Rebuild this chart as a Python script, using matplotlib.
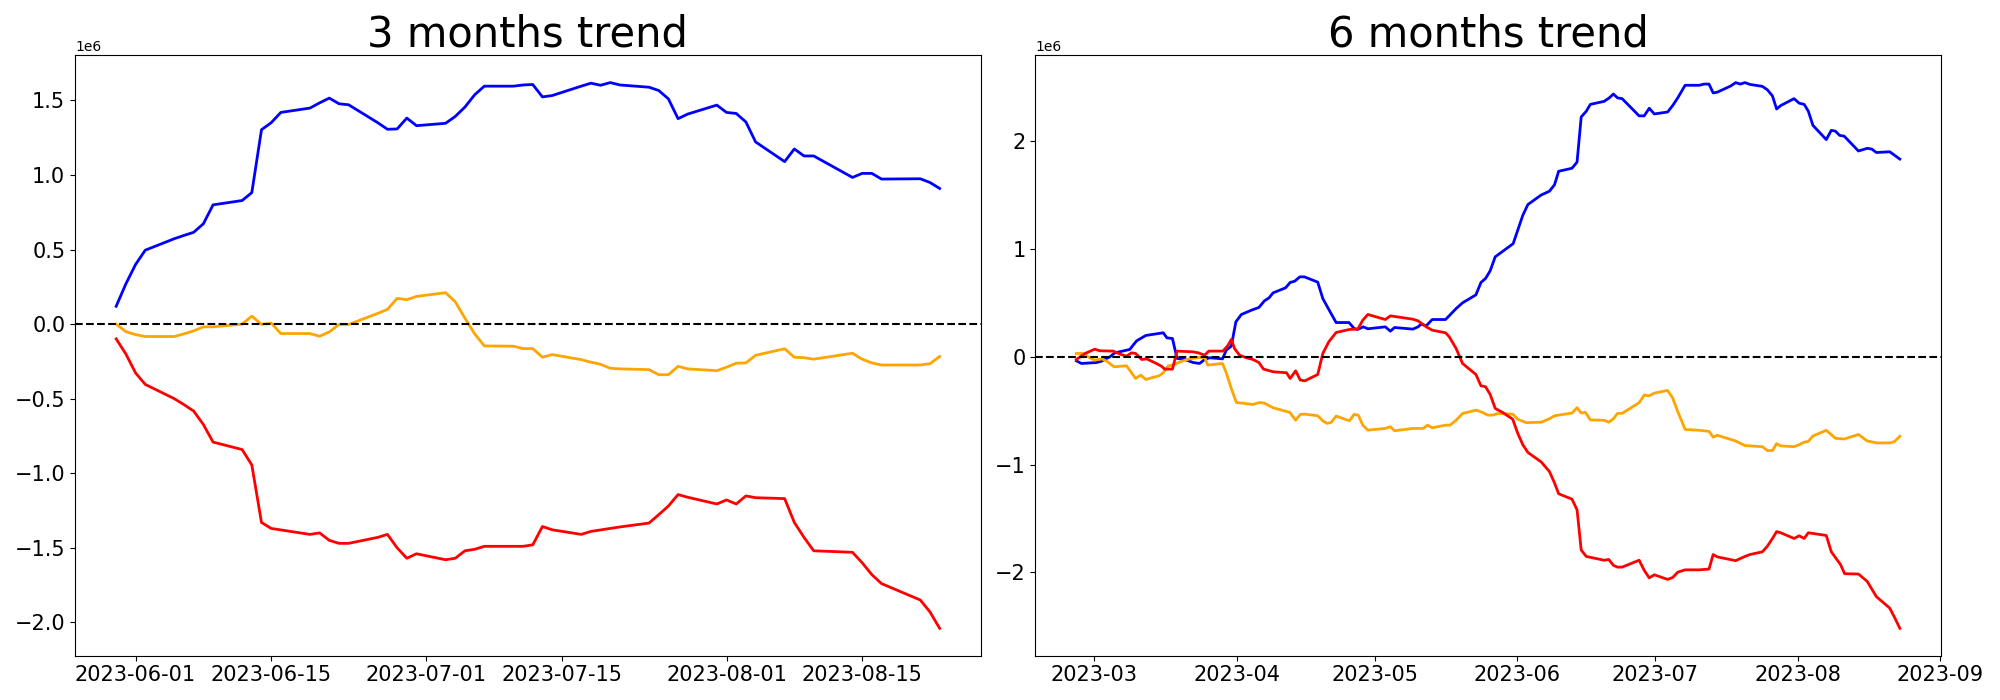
import numpy as np
import matplotlib
matplotlib.use("Agg")
import matplotlib.pyplot as plt
import pandas as pd

# 3 months panel: days after 2023-06-01
days3 = [-2, -1, 0, 1, 4, 5, 6, 7, 8, 11, 12, 13, 14, 15, 18, 19, 20, 21, 22,
         25, 26, 27, 28, 29, 32, 33, 34, 35, 36, 39, 40, 41, 42, 43, 46, 47, 48,
         49, 50, 53, 54, 55, 56, 57, 60, 61, 62, 63, 64, 67, 68, 69, 70, 74, 75,
         76, 77, 81, 82, 83]
blue3 = [0.12, 0.27, 0.40, 0.496, 0.573, 0.595, 0.616, 0.673, 0.80,
         0.829, 0.882, 1.304, 1.351, 1.42,
         1.449, 1.484, 1.516, 1.478, 1.471,
         1.351, 1.307, 1.309, 1.382, 1.331,
         1.347, 1.393, 1.456, 1.538, 1.596,
         1.596, 1.604, 1.607, 1.524, 1.533,
         1.596, 1.616, 1.602, 1.62, 1.604,
         1.589, 1.567, 1.511, 1.378, 1.409,
         1.469, 1.42, 1.413, 1.356, 1.222,
         1.09, 1.175, 1.128, 1.128,
         0.984, 1.011, 1.011, 0.973,
         0.975, 0.95, 0.91]
orange3 = [0.0, -0.05, -0.07, -0.083, -0.083, -0.065, -0.045, -0.018, -0.018,
           0.0, 0.054, -0.002, 0.007, -0.063,
           -0.063, -0.081, -0.052, -0.002, -0.002,
           0.072, 0.099, 0.173, 0.164, 0.186,
           0.211, 0.15, 0.04, -0.065, -0.146,
           -0.148, -0.164, -0.164, -0.222, -0.204,
           -0.238, -0.255, -0.269, -0.296, -0.30,
           -0.305, -0.339, -0.339, -0.283, -0.30,
           -0.312, -0.289, -0.262, -0.26, -0.209,
           -0.165, -0.222, -0.225, -0.235,
           -0.195, -0.235, -0.26, -0.274,
           -0.274, -0.265, -0.217]
red3 = [-0.099, -0.20, -0.327, -0.404, -0.50, -0.54, -0.583, -0.673, -0.791,
        -0.841, -0.944, -1.33, -1.37, -1.38,
        -1.41, -1.40, -1.45, -1.47, -1.47,
        -1.43, -1.41, -1.50, -1.57, -1.54,
        -1.58, -1.57, -1.52, -1.51, -1.49,
        -1.49, -1.49, -1.48, -1.357, -1.379,
        -1.41, -1.39, -1.38, -1.37, -1.36,
        -1.334, -1.278, -1.22, -1.143, -1.161,
        -1.206, -1.179, -1.206, -1.152, -1.164,
        -1.17, -1.33, -1.43, -1.52,
        -1.53, -1.60, -1.68, -1.74,
        -1.85, -1.93, -2.04]

# 6 months panel: days after 2023-03-01
blue6_days = [-3.9, -2.8, 0.5, 1.6, 3.4, 4.5, 7.7, 9.2, 11.2, 15.0, 15.8, 17.0, 18.0, 19.7,
              21.5, 22.9, 24.0, 25.1, 27.9, 28.7, 29.8, 30.8, 32.0, 34.2, 35.8, 37.0, 38.0,
              38.9, 41.6, 42.6, 43.6, 44.7, 45.7, 48.6, 49.7, 51.3, 52.6, 55.4, 56.5, 57.3,
              58.5, 59.5, 63.3, 64.4, 65.3, 69.3, 70.4, 71.1, 72.2, 73.5, 76.4, 78.7, 80.1,
              83.0, 84.1, 85.1, 86.1, 87.2, 91.1, 93.2, 94.3, 97.2, 99.0, 100.1, 101.0, 103.9,
              105.0, 105.9, 107.0, 107.9, 110.9, 112.0, 112.9, 113.8, 114.8, 118.5, 119.6,
              120.7, 121.8, 124.7, 125.8, 126.9, 128.5, 131.6, 132.6, 133.7, 134.6, 135.5,
              138.4, 139.5, 140.5, 141.5, 142.6, 145.3, 146.4, 147.5, 148.4, 149.3, 152.2,
              153.3, 154.4, 155.3, 156.3, 159.2, 160.3, 161.2, 162.1, 163.1, 166.2, 168.1,
              169.1, 170.1, 173.0, 175.2]
blue6 = [-0.037, -0.062, -0.053, -0.04, 0.0, 0.037, 0.068, 0.148, 0.198, 0.223, 0.176, 0.17,
         -0.015, -0.025, -0.053, -0.062, -0.025, -0.009, -0.019, 0.062, 0.099, 0.325, 0.393,
         0.433, 0.458, 0.519, 0.547, 0.594, 0.640, 0.690, 0.702, 0.742, 0.742, 0.693, 0.541,
         0.417, 0.318, 0.318, 0.263, 0.254, 0.278, 0.260, 0.278, 0.238, 0.272, 0.257, 0.278,
         0.303, 0.288, 0.346, 0.346, 0.448, 0.501, 0.575, 0.690, 0.727, 0.798, 0.928, 1.05,
         1.313, 1.413, 1.502, 1.537, 1.597, 1.722, 1.750, 1.807, 2.226, 2.279, 2.343, 2.371,
         2.403, 2.439, 2.403, 2.396, 2.236, 2.236, 2.307, 2.254, 2.272, 2.332, 2.403, 2.520,
         2.520, 2.531, 2.531, 2.449, 2.456, 2.513, 2.545, 2.531, 2.545, 2.528, 2.510, 2.478,
         2.421, 2.300, 2.332, 2.396, 2.354, 2.343, 2.279, 2.148, 2.016, 2.102, 2.094, 2.055,
         2.048, 1.910, 1.935, 1.928, 1.896, 1.903, 1.835]

red6_days = [-3.9, -2.0, 0.1, 1.2, 4.1, 5.6, 7.0, 8.1, 9.0, 10.3, 11.4, 13.5, 14.6, 15.3, 17.0,
             17.5, 18.0, 21.5, 22.6, 24.0, 24.9, 28.0, 29.1, 29.8, 30.5, 31.6, 33.1, 34.5, 35.8,
             36.8, 38.9, 41.8, 42.6, 43.8, 44.8, 45.8, 48.6, 49.7, 51.0, 52.6, 55.5, 57.3, 58.4,
             59.5, 63.3, 64.4, 69.3, 70.4, 72.2, 73.5, 76.4, 77.2, 78.7, 80.1, 83.0, 84.1, 85.1,
             86.1, 87.2, 88.8, 91.0, 92.1, 93.2, 94.3, 97.2, 99.0, 100.1, 101.0, 103.9, 105.0,
             105.9, 107.0, 110.9, 111.9, 112.9, 113.8, 114.8, 118.5, 119.6, 120.7, 121.8, 124.7,
             125.8, 126.9, 128.5, 131.6, 133.7, 134.6, 135.5, 139.5, 141.5, 142.6, 145.3, 146.4,
             147.5, 148.4, 149.3, 152.2, 153.3, 154.4, 155.3, 159.2, 160.3, 162.3, 163.2, 166.2,
             168.1, 170.1, 173.0, 174.0, 175.2]
red6 = [-0.025, 0.031, 0.071, 0.056, 0.053, 0.025, 0.006, 0.037, 0.031, -0.025, -0.019, -0.062,
        -0.087, -0.114, -0.114, -0.031, 0.053, 0.046, 0.037, 0.015, 0.053, 0.053, 0.108, 0.161,
        0.077, 0.015, -0.009, -0.025, -0.053, -0.114, -0.139, -0.148, -0.201, -0.130, -0.216,
        -0.223, -0.164, 0.031, 0.139, 0.226, 0.254, 0.257, 0.340, 0.393, 0.346, 0.380, 0.349,
        0.334, 0.278, 0.247, 0.223, 0.186, 0.077, -0.062, -0.164, -0.269, -0.278, -0.349,
        -0.479, -0.516, -0.579, -0.710, -0.816, -0.887, -0.976, -1.065, -1.171, -1.271, -1.321,
        -1.420, -1.793, -1.853, -1.888, -1.881, -1.935, -1.952, -1.952, -1.888, -1.981, -2.052,
        -2.023, -2.066, -2.048, -1.999, -1.977, -1.977, -1.970, -1.835, -1.857, -1.892, -1.853,
        -1.835, -1.810, -1.757, -1.686, -1.622, -1.633, -1.686, -1.661, -1.686, -1.633, -1.658,
        -1.810, -1.928, -2.013, -2.016, -2.084, -2.226, -2.332, -2.414, -2.520]

orange6_days = [-3.9, -2.4, -1.0, 0.1, 1.6, 2.7, 4.3, 7.0, 9.0, 10.1, 11.2, 14.1, 15.0, 16.1,
                16.8, 19.3, 20.8, 22.9, 24.0, 24.7, 27.9, 28.7, 29.8, 30.9, 34.5, 36.0, 37.0,
                38.9, 42.5, 43.8, 44.8, 45.7, 48.6, 49.7, 50.6, 51.5, 52.6, 55.5, 56.5, 57.4,
                58.4, 59.5, 63.3, 64.4, 65.3, 69.3, 71.5, 72.5, 73.5, 76.4, 77.4, 78.7, 80.1,
                83.0, 84.1, 85.6, 86.7, 87.8, 91.0, 92.1, 93.9, 97.2, 99.0, 100.1, 103.9, 105.0,
                105.9, 106.8, 107.9, 110.9, 111.9, 112.9, 113.8, 114.8, 118.5, 119.6, 120.7,
                121.8, 124.7, 125.8, 126.9, 128.5, 131.6, 133.7, 134.6, 135.5, 139.5, 141.5,
                145.3, 146.4, 147.5, 148.4, 149.3, 152.2, 153.3, 154.4, 155.3, 156.3, 159.2,
                161.2, 163.1, 166.2, 168.1, 170.1, 173.0, 174.0, 175.2]
orange6 = [0.031, 0.031, -0.009, -0.031, -0.019, -0.040, -0.093, -0.083, -0.201, -0.170,
           -0.210, -0.176, -0.148, -0.083, -0.080, -0.037, -0.019, -0.006, -0.006, -0.077,
           -0.062, -0.148, -0.294, -0.424, -0.442, -0.424, -0.430, -0.473, -0.516, -0.588,
           -0.535, -0.532, -0.547, -0.594, -0.618, -0.609, -0.550, -0.594, -0.535, -0.541,
           -0.634, -0.680, -0.665, -0.649, -0.686, -0.665, -0.665, -0.634, -0.659, -0.634,
           -0.634, -0.588, -0.526, -0.495, -0.510, -0.541, -0.541, -0.526, -0.532, -0.579,
           -0.611, -0.607, -0.575, -0.547, -0.522, -0.472, -0.522, -0.515, -0.586, -0.589,
           -0.607, -0.575, -0.525, -0.525, -0.426, -0.355, -0.362, -0.337, -0.312, -0.383,
           -0.508, -0.674, -0.682, -0.692, -0.745, -0.728, -0.781, -0.824, -0.834, -0.870,
           -0.870, -0.806, -0.827, -0.834, -0.816, -0.792, -0.785, -0.735, -0.682, -0.756,
           -0.763, -0.721, -0.781, -0.799, -0.799, -0.788, -0.738]


def to_dates(start, days):
    return pd.Timestamp(start) + pd.to_timedelta(days, unit="D")


fig, (ax1, ax2) = plt.subplots(1, 2, figsize=(20, 7), dpi=100)
fig.subplots_adjust(left=0.0375, right=0.9705, bottom=0.0634, top=0.921, wspace=0.06)

x3 = to_dates("2023-06-01", days3)
ax1.plot(x3, np.array(blue3) * 1e6, color="blue", lw=2)
ax1.plot(x3, np.array(orange3) * 1e6, color="orange", lw=2)
ax1.plot(x3, np.array(red3) * 1e6, color="red", lw=2)
ax1.axhline(0, color="black", linestyle="--", lw=1.5)
ax1.set_title("3 months trend", fontsize=30)

ax2.plot(to_dates("2023-03-01", blue6_days), np.array(blue6) * 1e6, color="blue", lw=2)
ax2.plot(to_dates("2023-03-01", orange6_days), np.array(orange6) * 1e6, color="orange", lw=2)
ax2.plot(to_dates("2023-03-01", red6_days), np.array(red6) * 1e6, color="red", lw=2)
ax2.axhline(0, color="black", linestyle="--", lw=1.5)
ax2.set_title("6 months trend", fontsize=30)

for ax in (ax1, ax2):
    ax.tick_params(labelsize=15)

fig.savefig("out.png")
